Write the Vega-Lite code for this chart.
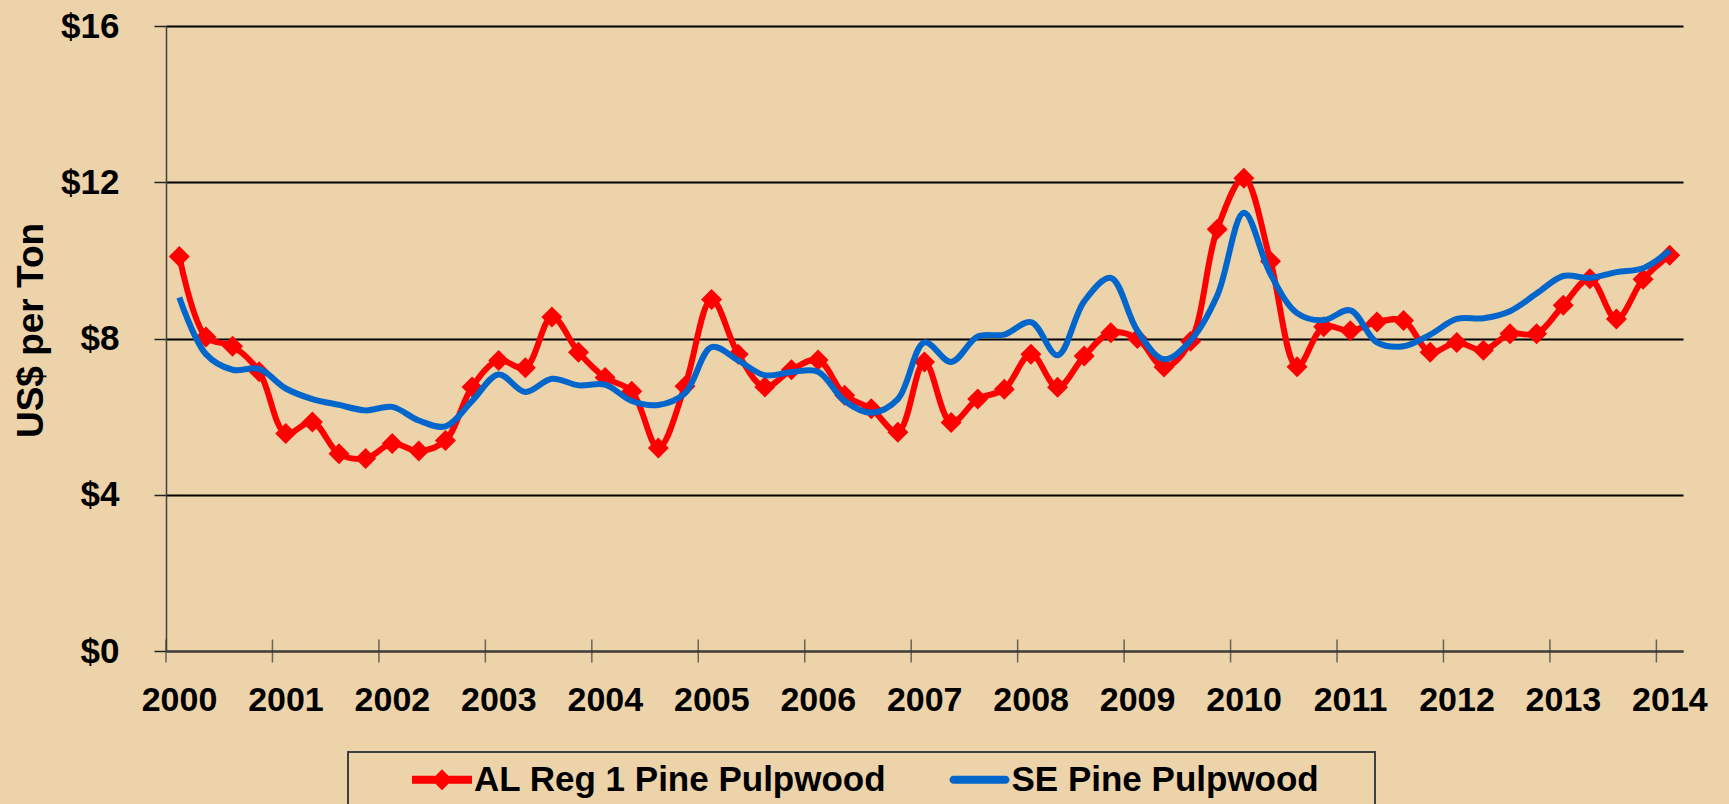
{
  "$schema": "https://vega.github.io/schema/vega-lite/v6.json",
  "width": 1517,
  "height": 625,
  "autosize": {"type": "none"},
  "padding": {"left": 166, "top": 26, "right": 46, "bottom": 153},
  "background": "#ECD3A9",
  "config": {
    "view": {"stroke": null},
    "font": "Liberation Sans",
    "legend": {"strokeWidth": 2}
  },
  "data": {
    "values": [
      {"t": 2000.125, "al": 10.1, "se": 9.05},
      {"t": 2000.375, "al": 8.04, "se": 7.6},
      {"t": 2000.625, "al": 7.8, "se": 7.2},
      {"t": 2000.875, "al": 7.15, "se": 7.22},
      {"t": 2001.125, "al": 5.57, "se": 6.72},
      {"t": 2001.375, "al": 5.86, "se": 6.45},
      {"t": 2001.625, "al": 5.05, "se": 6.3},
      {"t": 2001.875, "al": 4.93, "se": 6.16},
      {"t": 2002.125, "al": 5.31, "se": 6.25},
      {"t": 2002.375, "al": 5.12, "se": 5.9},
      {"t": 2002.625, "al": 5.39, "se": 5.75},
      {"t": 2002.875, "al": 6.76, "se": 6.4},
      {"t": 2003.125, "al": 7.44, "se": 7.08},
      {"t": 2003.375, "al": 7.25, "se": 6.63},
      {"t": 2003.625, "al": 8.55, "se": 6.97},
      {"t": 2003.875, "al": 7.65, "se": 6.8},
      {"t": 2004.125, "al": 7.0, "se": 6.82},
      {"t": 2004.375, "al": 6.65, "se": 6.4},
      {"t": 2004.625, "al": 5.2, "se": 6.3},
      {"t": 2004.875, "al": 6.78, "se": 6.6},
      {"t": 2005.125, "al": 9.0, "se": 7.78},
      {"t": 2005.375, "al": 7.6, "se": 7.44},
      {"t": 2005.625, "al": 6.76, "se": 7.06},
      {"t": 2005.875, "al": 7.2, "se": 7.14},
      {"t": 2006.125, "al": 7.45, "se": 7.15},
      {"t": 2006.375, "al": 6.55, "se": 6.4},
      {"t": 2006.625, "al": 6.2, "se": 6.1},
      {"t": 2006.875, "al": 5.6, "se": 6.45},
      {"t": 2007.125, "al": 7.4, "se": 7.9},
      {"t": 2007.375, "al": 5.85, "se": 7.4},
      {"t": 2007.625, "al": 6.45, "se": 8.05},
      {"t": 2007.875, "al": 6.7, "se": 8.1},
      {"t": 2008.125, "al": 7.6, "se": 8.42},
      {"t": 2008.375, "al": 6.75, "se": 7.57},
      {"t": 2008.625, "al": 7.55, "se": 8.95},
      {"t": 2008.875, "al": 8.15, "se": 9.55},
      {"t": 2009.125, "al": 8.0, "se": 8.2},
      {"t": 2009.375, "al": 7.27, "se": 7.47},
      {"t": 2009.625, "al": 7.93, "se": 7.95},
      {"t": 2009.875, "al": 10.8, "se": 9.1},
      {"t": 2010.125, "al": 12.1, "se": 11.22},
      {"t": 2010.375, "al": 9.98, "se": 9.65},
      {"t": 2010.625, "al": 7.28, "se": 8.65},
      {"t": 2010.875, "al": 8.3, "se": 8.47},
      {"t": 2011.125, "al": 8.2, "se": 8.72},
      {"t": 2011.375, "al": 8.42, "se": 7.9},
      {"t": 2011.625, "al": 8.46, "se": 7.8},
      {"t": 2011.875, "al": 7.65, "se": 8.1},
      {"t": 2012.125, "al": 7.9, "se": 8.5},
      {"t": 2012.375, "al": 7.7, "se": 8.52},
      {"t": 2012.625, "al": 8.12, "se": 8.7},
      {"t": 2012.875, "al": 8.12, "se": 9.15},
      {"t": 2013.125, "al": 8.85, "se": 9.6},
      {"t": 2013.375, "al": 9.53, "se": 9.55},
      {"t": 2013.625, "al": 8.5, "se": 9.7},
      {"t": 2013.875, "al": 9.52, "se": 9.8},
      {"t": 2014.125, "al": 10.13, "se": 10.25}
    ]
  },
  "encoding": {
    "x": {
      "field": "t", "type": "quantitative",
      "scale": {"domain": [2000, 2014.25], "nice": false, "zero": false},
      "axis": {
        "title": null,
        "values": [2000, 2001, 2002, 2003, 2004, 2005, 2006, 2007, 2008, 2009, 2010, 2011, 2012, 2013, 2014],
        "format": "d",
        "ticks": false,
        "grid": false,
        "domainColor": "#404040",
        "domainWidth": 1.5,
        "labelFont": "Liberation Sans",
        "labelFontSize": 34,
        "labelFontWeight": "bold",
        "labelColor": "#000000",
        "labelOffset": 13,
        "labelPadding": 32,
        "labelFlush": false,
        "labelOverlap": false
      }
    }
  },
  "layer": [
    {
      "data": {"values": [
        {"t": 2000}, {"t": 2001}, {"t": 2002}, {"t": 2003}, {"t": 2004},
        {"t": 2005}, {"t": 2006}, {"t": 2007}, {"t": 2008}, {"t": 2009},
        {"t": 2010}, {"t": 2011}, {"t": 2012}, {"t": 2013}, {"t": 2014}
      ]},
      "mark": {"type": "tick", "orient": "vertical", "size": 23, "thickness": 1.5, "color": "#333333"},
      "encoding": {
        "y": {
          "datum": 0, "type": "quantitative",
          "scale": {"domain": [0, 16], "nice": false, "zero": true},
          "axis": {
            "title": "US$ per Ton",
            "titleFont": "Liberation Sans",
            "titleFontSize": 37,
            "titleFontWeight": "bold",
            "titleColor": "#000000",
            "titlePadding": 10,
            "titleY": 304,
            "values": [0, 4, 8, 12, 16],
            "labelExpr": "'$' + datum.value",
            "labelFont": "Liberation Sans",
            "labelFontSize": 35,
            "labelFontWeight": "bold",
            "labelColor": "#000000",
            "labelPadding": 35,
            "tickSize": 12,
            "tickColor": "#222222",
            "tickWidth": 1.5,
            "domainColor": "#404040",
            "domainWidth": 1.5,
            "grid": true,
            "gridColor": "#000000",
            "gridWidth": 2,
            "gridOpacity": 1
          }
        }
      }
    },
    {
      "mark": {
        "type": "line", "interpolate": "catmull-rom", "strokeWidth": 6,
        "point": {"shape": "diamond", "size": 441, "filled": true, "opacity": 1}
      },
      "encoding": {
        "y": {"field": "al", "type": "quantitative", "title": "US$ per Ton"},
        "color": {
          "datum": "AL Reg 1 Pine Pulpwood", "type": "nominal",
          "scale": {"domain": ["AL Reg 1 Pine Pulpwood", "SE Pine Pulpwood"], "range": ["#FF0000", "#0066CC"]},
          "legend": {
            "orient": "none",
            "legendX": 182,
            "legendY": 726,
            "direction": "horizontal",
            "title": "\u00a0",
            "titleOrient": "right",
            "titleFontSize": 1,
            "titlePadding": 46,
            "labelFont": "Liberation Sans",
            "labelFontSize": 35,
            "labelFontWeight": "bold",
            "labelColor": "#000000",
            "labelLimit": 1000,
            "strokeColor": "#404040",
            "padding": 10,
            "columnPadding": 8.5,
            "symbolSize": 400,
            "symbolOffset": 66.5,
            "labelOffset": 14.5,
            "encode": {
              "symbols": {
                "update": {
                  "shape": {"signal": "datum.value === 'SE Pine Pulpwood' ? 'M-2.6,-0.4 L2.6,-0.4 A0.4,0.4 0 0 1 2.6,0.4 L-2.6,0.4 A0.4,0.4 0 0 1 -2.6,-0.4 Z' : 'M-3,-0.4 L-0.65,-0.4 L0,-1.05 L0.65,-0.4 L3,-0.4 L3,0.4 L0.65,0.4 L0,1.05 L-0.65,0.4 L-3,0.4 Z'"},
                  "fill": {"signal": "datum.value === 'SE Pine Pulpwood' ? '#0066CC' : '#FF0000'"},
                  "stroke": {"value": "transparent"},
                  "strokeWidth": {"value": 0},
                  "opacity": {"value": 1}
                }
              }
            }
          }
        }
      }
    },
    {
      "mark": {"type": "line", "interpolate": "catmull-rom", "strokeWidth": 6},
      "encoding": {
        "y": {"field": "se", "type": "quantitative", "title": "US$ per Ton"},
        "color": {"datum": "SE Pine Pulpwood", "type": "nominal"}
      }
    }
  ]
}
